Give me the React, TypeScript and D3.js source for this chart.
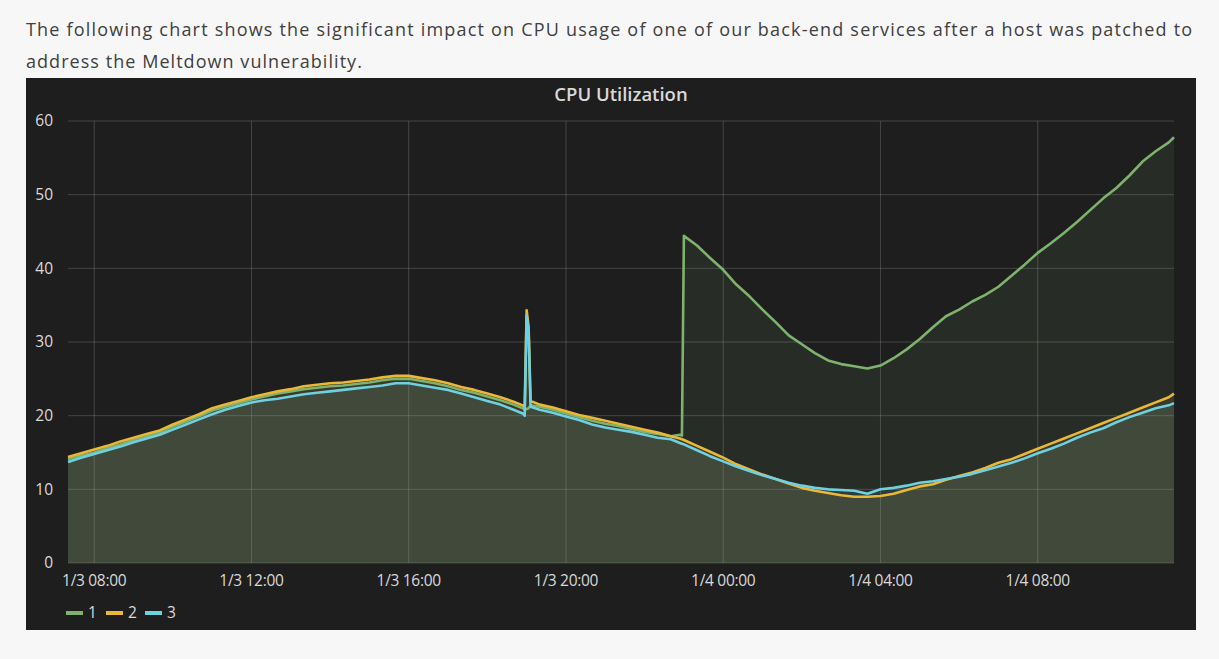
import React from 'react'
import * as d3 from 'd3'

// sample times (1/3 – 1/4 2018)
const times = [
  '01-03 07:20', '01-03 07:40', '01-03 08:00', '01-03 08:20', '01-03 08:40', '01-03 09:00',
  '01-03 09:20', '01-03 09:40', '01-03 10:00', '01-03 10:20', '01-03 10:40', '01-03 11:00',
  '01-03 11:20', '01-03 11:40', '01-03 12:00', '01-03 12:20', '01-03 12:40', '01-03 13:00',
  '01-03 13:20', '01-03 13:40', '01-03 14:00', '01-03 14:20', '01-03 14:40', '01-03 15:00',
  '01-03 15:20', '01-03 15:40', '01-03 16:00', '01-03 16:20', '01-03 16:40', '01-03 17:00',
  '01-03 17:20', '01-03 17:40', '01-03 18:00', '01-03 18:20', '01-03 18:40', '01-03 18:54',
  '01-03 18:57', '01-03 19:00', '01-03 19:03', '01-03 19:06', '01-03 19:20', '01-03 19:40',
  '01-03 20:00', '01-03 20:20', '01-03 20:40', '01-03 21:00', '01-03 21:20', '01-03 21:40',
  '01-03 22:00', '01-03 22:20', '01-03 22:40', '01-03 22:54', '01-03 22:57', '01-03 23:00',
  '01-03 23:20', '01-03 23:40', '01-04 00:00', '01-04 00:20', '01-04 00:40', '01-04 01:00',
  '01-04 01:20', '01-04 01:40', '01-04 02:00', '01-04 02:20', '01-04 02:40', '01-04 03:00',
  '01-04 03:20', '01-04 03:40', '01-04 04:00', '01-04 04:20', '01-04 04:40', '01-04 05:00',
  '01-04 05:20', '01-04 05:40', '01-04 06:00', '01-04 06:20', '01-04 06:40', '01-04 07:00',
  '01-04 07:20', '01-04 07:40', '01-04 08:00', '01-04 08:20', '01-04 08:40', '01-04 09:00',
  '01-04 09:20', '01-04 09:40', '01-04 10:00', '01-04 10:20', '01-04 10:40', '01-04 11:00',
  '01-04 11:20', '01-04 11:28',
]

// host 1 (patched at ~23:00)
const host1 = [
  14.1, 14.6, 15.0, 15.6, 16.1, 16.7, 17.2, 17.7, 18.5, 19.2, 19.9, 20.7,
  21.2, 21.7, 22.2, 22.6, 23.0, 23.3, 23.6, 23.8, 24.0, 24.1, 24.3, 24.5,
  24.8, 25.0, 25.0, 24.7, 24.4, 24.0, 23.5, 23.1, 22.6, 22.1, 21.5, 21.0,
  20.8, 20.9, 21.0, 21.4, 21.2, 20.8, 20.3, 19.8, 19.3, 18.9, 18.6, 18.2,
  17.8, 17.5, 17.2, 17.4, 17.3, 44.4,
  43.1, 41.4, 39.8, 37.8, 36.2, 34.4, 32.7, 30.9, 29.7, 28.5, 27.5, 27.0,
  26.7, 26.4, 26.8, 27.8, 29.0, 30.4, 32.0, 33.5, 34.4, 35.5, 36.4, 37.5,
  39.0, 40.5, 42.1, 43.4, 44.8, 46.3, 47.9, 49.5, 50.9, 52.6, 54.5, 55.9,
  57.1, 57.8,
]

const host2 = [
  14.4, 14.9, 15.4, 15.9, 16.5, 17.0, 17.5, 18.0, 18.8, 19.5, 20.2, 21.0,
  21.5, 22.0, 22.5, 22.9, 23.3, 23.6, 24.0, 24.2, 24.4, 24.5, 24.7, 24.9,
  25.2, 25.4, 25.4, 25.1, 24.8, 24.4, 23.9, 23.5, 23.0, 22.5, 21.9, 21.4,
  21.2, 34.3, 32.0, 22.0, 21.5, 21.1, 20.6, 20.1, 19.7, 19.3, 18.9, 18.5,
  18.1, 17.7, 17.2, 16.9, 16.8, 16.7,
  15.9, 15.1, 14.3, 13.4, 12.7, 12.0, 11.4, 10.8, 10.2, 9.8, 9.5, 9.2,
  9.0, 9.0, 9.1, 9.4, 9.9, 10.4, 10.7, 11.3, 11.8, 12.3, 12.9, 13.6,
  14.1, 14.8, 15.5, 16.2, 16.9, 17.6, 18.3, 19.0, 19.7, 20.4, 21.1, 21.8,
  22.5, 23.0,
]

const host3 = [
  13.7, 14.3, 14.8, 15.3, 15.8, 16.4, 16.9, 17.4, 18.1, 18.8, 19.5, 20.2,
  20.8, 21.3, 21.8, 22.1, 22.3, 22.6, 22.9, 23.1, 23.3, 23.5, 23.7, 23.9,
  24.1, 24.4, 24.4, 24.1, 23.8, 23.5, 23.0, 22.5, 22.0, 21.5, 20.8, 20.3,
  20.0, 33.6, 31.5, 21.2, 20.8, 20.4, 19.9, 19.4, 18.8, 18.4, 18.1, 17.8,
  17.4, 17.0, 16.8, 16.3, 16.2, 16.1,
  15.3, 14.5, 13.8, 13.1, 12.5, 11.9, 11.4, 10.9, 10.5, 10.2, 10.0, 9.9,
  9.8, 9.4, 10.0, 10.2, 10.5, 10.9, 11.1, 11.4, 11.7, 12.1, 12.6, 13.1,
  13.6, 14.2, 14.9, 15.5, 16.2, 17.0, 17.7, 18.3, 19.1, 19.8, 20.4, 21.0,
  21.4, 21.7,
]

const seriesNames = ['1', '2', '3']
const seriesValues = [host1, host2, host3]
const seriesColors = ['#7eb26d', '#eab839', '#6ed0e0']
const yTicks = [0, 10, 20, 30, 40, 50, 60]

const parseTime = d3.timeParse('%Y-%m-%d %H:%M')
const dates = times.map((t) => parseTime('2018-' + t) as Date)

const W = 1219
const H = 659
const plot = { left: 68, right: 1174, top: 121, bottom: 563 }
const axisColor = '#d8d9da'
const gridColor = 'rgba(150,150,150,0.33)'

export default function App() {
  const x = d3.scaleTime()
    .domain([dates[0], dates[dates.length - 1]])
    .range([plot.left, plot.right])
  const y = d3.scaleLinear().domain([0, 60]).range([plot.bottom, plot.top])

  const xTicks = d3.timeHour.every(4)!.range(dates[0], dates[dates.length - 1])
  const fmt = d3.timeFormat('%-m/%-d %H:%M')

  const line = d3.line<number>()
    .x((_, i) => x(dates[i]))
    .y((v) => y(v))
  const area = d3.area<number>()
    .x((_, i) => x(dates[i]))
    .y0(y(0))
    .y1((v) => y(v))

  const legendX = [66, 106, 145]

  return (
    <div style={{ position: 'absolute', left: 0, top: 0 }}>
      <svg width={W} height={H} style={{ display: 'block', fontFamily: '"Open Sans", sans-serif' }}>
        <rect width={W} height={H} fill="#f7f7f7" />
        <text x={26} y={36} fontSize={18} letterSpacing={1.2} fill="#404040">
          The following chart shows the significant impact on CPU usage of one of our back-end services after a host was patched to
        </text>
        <text x={26} y={68} fontSize={18} letterSpacing={1.05} fill="#404040">
          address the Meltdown vulnerability.
        </text>

        {/* panel */}
        <rect x={26} y={78} width={1170} height={552} fill="#1f1e1f" />
        <text x={621} y={101} textAnchor="middle" fontSize={18.5} fontWeight={600} fill={axisColor}>
          CPU Utilization
        </text>

        {/* grid */}
        {yTicks.map((t) => (
          <line key={'gy' + t} x1={plot.left} x2={plot.right} y1={y(t)} y2={y(t)} stroke={gridColor} />
        ))}
        {xTicks.map((d, i) => (
          <line key={'gx' + i} x1={x(d)} x2={x(d)} y1={plot.top} y2={plot.bottom} stroke={gridColor} />
        ))}

        {/* fills under each series */}
        {seriesValues.map((vals, i) => (
          <path key={'a' + i} d={area(vals) ?? ''} fill={seriesColors[i]} fillOpacity={0.1} />
        ))}
        {seriesValues.map((vals, i) => (
          <path key={'l' + i} d={line(vals) ?? ''} fill="none" stroke={seriesColors[i]} strokeWidth={2.6} strokeLinejoin="round" />
        ))}

        {/* y axis labels */}
        {yTicks.map((t) => (
          <text key={'ty' + t} x={53} y={y(t)} dy="0.35em" textAnchor="end" fontSize={15.5} fill={axisColor}>
            {t}
          </text>
        ))}
        {/* x axis labels */}
        {xTicks.map((d, i) => (
          <text key={'tx' + i} x={x(d)} y={581} dy="0.35em" textAnchor="middle" fontSize={15.5} letterSpacing={-0.3} fill={axisColor}>
            {fmt(d)}
          </text>
        ))}

        {/* legend */}
        {seriesNames.map((n, i) => (
          <g key={'lg' + i}>
            <rect x={legendX[i]} y={611} width={17} height={4} fill={seriesColors[i]} />
            <text x={legendX[i] + 22} y={613} dy="0.35em" fontSize={15.5} fill={axisColor}>
              {n}
            </text>
          </g>
        ))}
      </svg>
    </div>
  )
}
